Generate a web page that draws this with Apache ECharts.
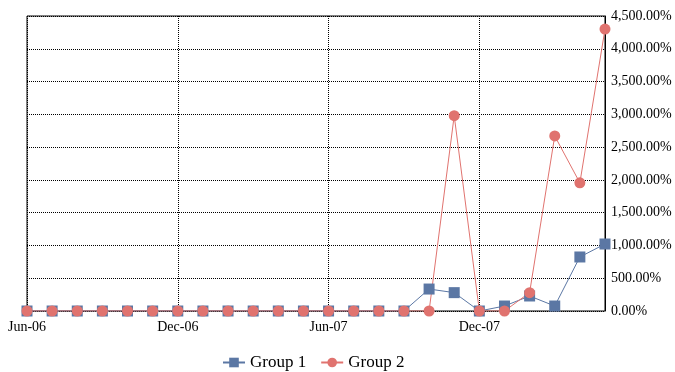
<!DOCTYPE html>
<html>
<head>
<meta charset="utf-8">
<script src="https://cdn.jsdelivr.net/npm/echarts@6/dist/echarts.min.js"></script>
<style>
html, body { margin: 0; padding: 0; background: #fff; }
#chart { width: 675px; height: 372px; }
</style>
</head>
<body>
<div id="chart"></div>
<script>
var months = ['Jun-06','Jul-06','Aug-06','Sep-06','Oct-06','Nov-06','Dec-06','Jan-07','Feb-07','Mar-07','Apr-07','May-07',
	'Jun-07','Jul-07','Aug-07','Sep-07','Oct-07','Nov-07','Dec-07','Jan-08','Feb-08','Mar-08','Apr-08','May-08'];
var group1 = [0,0,0,0,0,0,0,0,0,0,0,0,0,0,0,0,335,280,0,76,229,76,824,1022];
var group2 = [0,0,0,0,0,0,0,0,0,0,0,0,0,0,0,0,0,2980,0,0,280,2670,1955,4300];
var yTicks = [0, 4500, 500];

var fontName = 'Liberation Serif';

function fmtPct(v){
	// 1234 -> 1,234.00%
	var s = v.toFixed(2).split('.');
	s[0] = s[0].replace(/\B(?=(\d{3})+(?!\d))/g, ',');
	return s.join('.') + '%';
}

var chart = echarts.init(document.getElementById('chart'));
var option = {
	animation: false,
	grid: {
		left: 27, right: 70, top: 16, bottom: 61,
		show: true, borderColor: '#000', borderWidth: 1
	},
	legend: {
		top: 349,
		left: 217,
		itemWidth: 22,
		itemHeight: 12,
		itemGap: 14,
		textStyle: { fontFamily: fontName, fontSize: 17, color: '#000' },
		data: ['Group 1', 'Group 2']
	},
	xAxis: {
		type: 'category',
		data: months,
		boundaryGap: false,
		axisLine: { show: false },
		axisTick: { show: false },
		axisLabel: { interval: 5, fontFamily: fontName, fontSize: 14, color: '#000', margin: 9 },
		splitLine: { show: true, interval: 5, lineStyle: { color: '#000', type: [1, 1], width: 1 } }
	},
	yAxis: {
		type: 'value',
		position: 'right',
		min: yTicks[0], max: yTicks[1], interval: yTicks[2],
		axisLine: { show: true, lineStyle: { color: '#000' } },
		axisTick: { show: false },
		axisLabel: { fontFamily: fontName, fontSize: 14, color: '#000', margin: 6, formatter: fmtPct },
		splitLine: { lineStyle: { color: '#000', type: [1, 1], width: 1 } }
	},
	series: [
		{
			name: 'Group 1', type: 'line', data: group1,
			symbol: 'rect', symbolSize: 11, showAllSymbol: true,
			itemStyle: { color: '#5b77a4' },
			lineStyle: { color: '#5b77a4', width: 1 }
		},
		{
			name: 'Group 2', type: 'line', data: group2,
			symbol: 'circle', symbolSize: 11, showAllSymbol: true,
			itemStyle: { color: '#e0736f' },
			lineStyle: { color: '#e0736f', width: 1 }
		}
	]
};
chart.setOption(option);
</script>
</body>
</html>
